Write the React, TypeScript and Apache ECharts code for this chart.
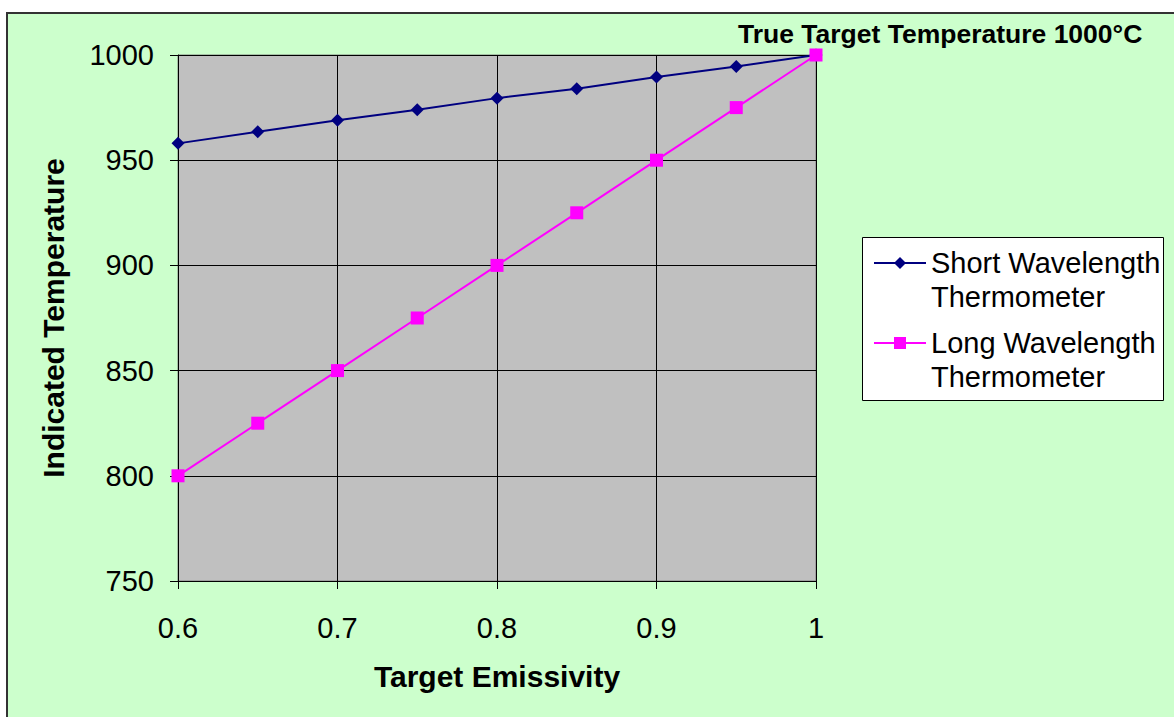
import React, { useEffect, useRef } from "react";
import * as echarts from "echarts";

const emissivity = [0.6, 0.65, 0.7, 0.75, 0.8, 0.85, 0.9, 0.95, 1.0];
const shortWave = [958, 963.5, 969, 974, 979.5, 984, 989.5, 994.5, 1000];
const longWave = [800, 825, 850, 875, 900, 925, 950, 975, 1000];
const seriesNames = ["Short Wavelength\nThermometer", "Long Wavelength\nThermometer"];
const titleText = "True Target Temperature 1000°C";
const xName = "Target Emissivity";
const yName = "Indicated Temperature";

const FONT = "'Liberation Sans', Arial, sans-serif";

export default function App() {
  const ref = useRef<HTMLDivElement>(null);
  useEffect(() => {
    if (!ref.current) return;
    const chart = echarts.init(ref.current, undefined, { renderer: "svg" });
    const pairs = (ys: number[]) => emissivity.map((x, i) => [x, ys[i]]);
    chart.setOption({
      animation: false,
      backgroundColor: "#ffffff",
      textStyle: { fontFamily: FONT },
      graphic: [
        {
          type: "rect",
          z: -10,
          shape: { x: 7, y: 13, width: 1200, height: 740 },
          style: { fill: "#CCFFCC", stroke: "#333333", lineWidth: 2 },
        },
        {
          type: "rect",
          z: 1,
          shape: { x: 862.5, y: 237.5, width: 301, height: 163 },
          style: { fill: "#ffffff", stroke: "#000000", lineWidth: 1 },
        },
      ],
      title: {
        text: titleText,
        left: 738,
        top: 20,
        padding: 0,
        textStyle: { fontFamily: FONT, fontSize: 26.5, fontWeight: "bold", color: "#000" },
      },
      legend: {
        orient: "vertical",
        left: 873,
        top: 212,
        padding: 0,
        itemGap: -22,
        itemWidth: 52,
        itemHeight: 15,
        z: 5,
        formatter: (name: string) => "\n" + name,
        textStyle: { fontFamily: FONT, fontSize: 29, lineHeight: 34, color: "#000" },
        data: seriesNames,
      },
      grid: {
        left: 178,
        top: 55,
        width: 638,
        height: 526,
        show: true,
        backgroundColor: "#C0C0C0",
        borderColor: "#808080",
        borderWidth: 1,
      },
      xAxis: {
        type: "value",
        min: 0.6,
        max: 1,
        interval: 0.1,
        name: xName,
        nameLocation: "middle",
        nameGap: 80,
        nameTextStyle: { fontFamily: FONT, fontSize: 30, fontWeight: "bold", color: "#000", verticalAlign: "top" },
        axisLine: { show: true, lineStyle: { color: "#000", width: 1 } },
        axisTick: { show: true, length: 8, lineStyle: { color: "#000" } },
        axisLabel: { fontFamily: FONT, fontSize: 29, color: "#000", margin: 32 },
        splitLine: { show: true, lineStyle: { color: "#000", width: 1 } },
      },
      yAxis: {
        type: "value",
        min: 750,
        max: 1000,
        interval: 50,
        name: yName,
        nameLocation: "middle",
        nameGap: 110,
        nameTextStyle: { fontFamily: FONT, fontSize: 30, fontWeight: "bold", color: "#000" },
        axisLine: { show: true, lineStyle: { color: "#000", width: 1 } },
        axisTick: { show: true, length: 8, lineStyle: { color: "#000" } },
        axisLabel: {
          fontFamily: FONT,
          fontSize: 29,
          color: "#000",
          margin: 24,
          formatter: (v: number) => String(v),
        },
        splitLine: { show: true, lineStyle: { color: "#000", width: 1 } },
      },
      series: [
        {
          name: seriesNames[0],
          type: "line",
          data: pairs(shortWave),
          symbol: "diamond",
          symbolSize: 13,
          itemStyle: { color: "#000080" },
          lineStyle: { color: "#000080", width: 2 },
        },
        {
          name: seriesNames[1],
          type: "line",
          data: pairs(longWave),
          symbol: "rect",
          symbolSize: 13,
          itemStyle: { color: "#FF00FF" },
          lineStyle: { color: "#FF00FF", width: 2 },
        },
      ],
    });
    return () => chart.dispose();
  }, []);
  return (
    <div
      ref={ref}
      style={{ position: "absolute", left: 0, top: 0, width: 1174, height: 717 }}
    />
  );
}
